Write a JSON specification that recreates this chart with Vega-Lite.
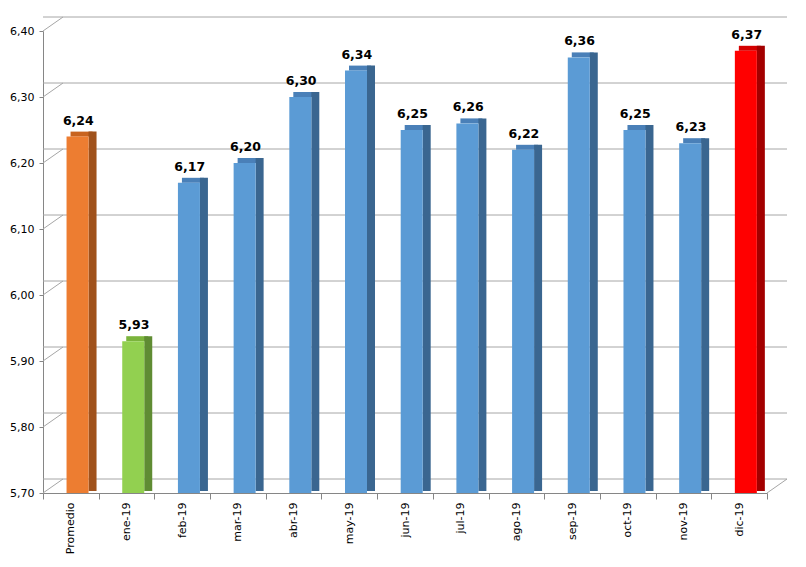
{
  "$schema": "https://vega.github.io/schema/vega-lite/v6.json",
  "width": 724,
  "height": 462,
  "autosize": {"type": "none"},
  "padding": {"left": 43, "top": 31, "right": 39, "bottom": 74},
  "background": "white",
  "config": {
    "locale": {"number": {"decimal": ",", "thousands": ".", "grouping": [3], "currency": ["", " €"]}},
    "font": "DejaVu Sans",
    "view": {"stroke": null}
  },
  "datasets": {
    "valores": [
      {"mes": "Promedio", "valor": 6.24},
      {"mes": "ene-19", "valor": 5.93},
      {"mes": "feb-19", "valor": 6.17},
      {"mes": "mar-19", "valor": 6.20},
      {"mes": "abr-19", "valor": 6.30},
      {"mes": "may-19", "valor": 6.34},
      {"mes": "jun-19", "valor": 6.25},
      {"mes": "jul-19", "valor": 6.26},
      {"mes": "ago-19", "valor": 6.22},
      {"mes": "sep-19", "valor": 6.36},
      {"mes": "oct-19", "valor": 6.25},
      {"mes": "nov-19", "valor": 6.23},
      {"mes": "dic-19", "valor": 6.37}
    ],
    "rejilla": [
      {"v": 5.7}, {"v": 5.8}, {"v": 5.9}, {"v": 6.0}, {"v": 6.1}, {"v": 6.2}, {"v": 6.3}, {"v": 6.4}
    ]
  },
  "layer": [
    {
      "data": {"name": "rejilla"},
      "mark": {"type": "rule", "color": "#A6A6A6", "strokeWidth": 1, "xOffset": 20, "x2Offset": 20, "yOffset": -14},
      "encoding": {
        "y": {"field": "v", "type": "quantitative", "scale": {"domain": [5.7, 6.4], "zero": false, "nice": false}}
      }
    },
    {
      "data": {"name": "rejilla"},
      "mark": {"type": "rule", "color": "#A6A6A6", "strokeWidth": 1, "x2Offset": 20, "y2Offset": -14},
      "encoding": {
        "x": {"datum": "Promedio", "bandPosition": 0, "scale": {"domain": ["Promedio", "ene-19", "feb-19", "mar-19", "abr-19", "may-19", "jun-19", "jul-19", "ago-19", "sep-19", "oct-19", "nov-19", "dic-19"]}},
        "x2": {"datum": "Promedio", "bandPosition": 0},
        "y": {"field": "v", "type": "quantitative"},
        "y2": {"field": "v"}
      }
    },
    {
      "data": {"values": [{"v": 5.7}]},
      "mark": {"type": "rule", "color": "#A6A6A6", "strokeWidth": 1, "x2Offset": 20, "y2Offset": -14},
      "encoding": {
        "x": {"datum": "dic-19", "bandPosition": 1, "scale": {"domain": ["Promedio", "ene-19", "feb-19", "mar-19", "abr-19", "may-19", "jun-19", "jul-19", "ago-19", "sep-19", "oct-19", "nov-19", "dic-19"]}},
        "x2": {"datum": "dic-19", "bandPosition": 1},
        "y": {"field": "v", "type": "quantitative"},
        "y2": {"field": "v"}
      }
    },
    {
      "data": {"name": "valores"},
      "resolve": {"scale": {"color": "independent"}},
      "layer": [
        {
          "mark": {"type": "bar", "width": 22, "xOffset": 10.7, "yOffset": -5, "y2Offset": 0},
          "encoding": {
            "y2": {"field": "valor"},
            "color": {
              "field": "mes", "type": "nominal", "legend": null,
              "scale": {
                "domain": ["Promedio", "ene-19", "feb-19", "mar-19", "abr-19", "may-19", "jun-19", "jul-19", "ago-19", "sep-19", "oct-19", "nov-19", "dic-19"],
                "range": ["#C8631F", "#7BB43C", "#4A80B8", "#4A80B8", "#4A80B8", "#4A80B8", "#4A80B8", "#4A80B8", "#4A80B8", "#4A80B8", "#4A80B8", "#4A80B8", "#D40000"]
              }
            }
          }
        },
        {
          "mark": {"type": "bar", "width": 8, "xOffset": 21.7, "yOffset": -5, "y2Offset": -2},
          "encoding": {
            "y2": {"datum": 5.7},
            "color": {
              "field": "mes", "type": "nominal", "legend": null,
              "scale": {
                "domain": ["Promedio", "ene-19", "feb-19", "mar-19", "abr-19", "may-19", "jun-19", "jul-19", "ago-19", "sep-19", "oct-19", "nov-19", "dic-19"],
                "range": ["#A0521C", "#5F8C33", "#3A6690", "#3A6690", "#3A6690", "#3A6690", "#3A6690", "#3A6690", "#3A6690", "#3A6690", "#3A6690", "#3A6690", "#A30000"]
              }
            }
          }
        },
        {
          "mark": {"type": "bar", "width": 22, "xOffset": 6.7},
          "encoding": {
            "y2": {"datum": 5.7},
            "color": {
              "field": "mes", "type": "nominal", "legend": null,
              "scale": {
                "domain": ["Promedio", "ene-19", "feb-19", "mar-19", "abr-19", "may-19", "jun-19", "jul-19", "ago-19", "sep-19", "oct-19", "nov-19", "dic-19"],
                "range": ["#ED7D31", "#92D050", "#5B9BD5", "#5B9BD5", "#5B9BD5", "#5B9BD5", "#5B9BD5", "#5B9BD5", "#5B9BD5", "#5B9BD5", "#5B9BD5", "#5B9BD5", "#FF0000"]
              }
            }
          }
        },
        {
          "mark": {"type": "text", "fontSize": 12.5, "fontWeight": "bold", "color": "black", "baseline": "alphabetic", "dy": -12, "xOffset": 7.5},
          "encoding": {
            "text": {"field": "valor", "type": "quantitative", "format": ".2f"}
          }
        }
      ],
      "encoding": {
        "x": {
          "field": "mes", "type": "nominal", "sort": null, "title": null,
          "scale": {"domain": ["Promedio", "ene-19", "feb-19", "mar-19", "abr-19", "may-19", "jun-19", "jul-19", "ago-19", "sep-19", "oct-19", "nov-19", "dic-19"], "paddingInner": 0, "paddingOuter": 0},
          "axis": {
            "labelAngle": -90, "labelAlign": "right", "labelBaseline": "middle",
            "labelFontSize": 11, "labelColor": "black", "labelPadding": 3,
            "tickBand": "extent", "tickSize": 6, "tickColor": "#868686",
            "domainColor": "#868686"
          }
        },
        "y": {
          "field": "valor", "type": "quantitative", "title": null,
          "scale": {"domain": [5.7, 6.4], "zero": false, "nice": false},
          "axis": {
            "values": [5.7, 5.8, 5.9, 6.0, 6.1, 6.2, 6.3, 6.4], "format": ".2f",
            "grid": false, "labelFontSize": 11, "labelColor": "black", "labelPadding": 5,
            "tickSize": 4, "tickColor": "#868686", "domainColor": "#868686"
          }
        }
      }
    }
  ]
}
